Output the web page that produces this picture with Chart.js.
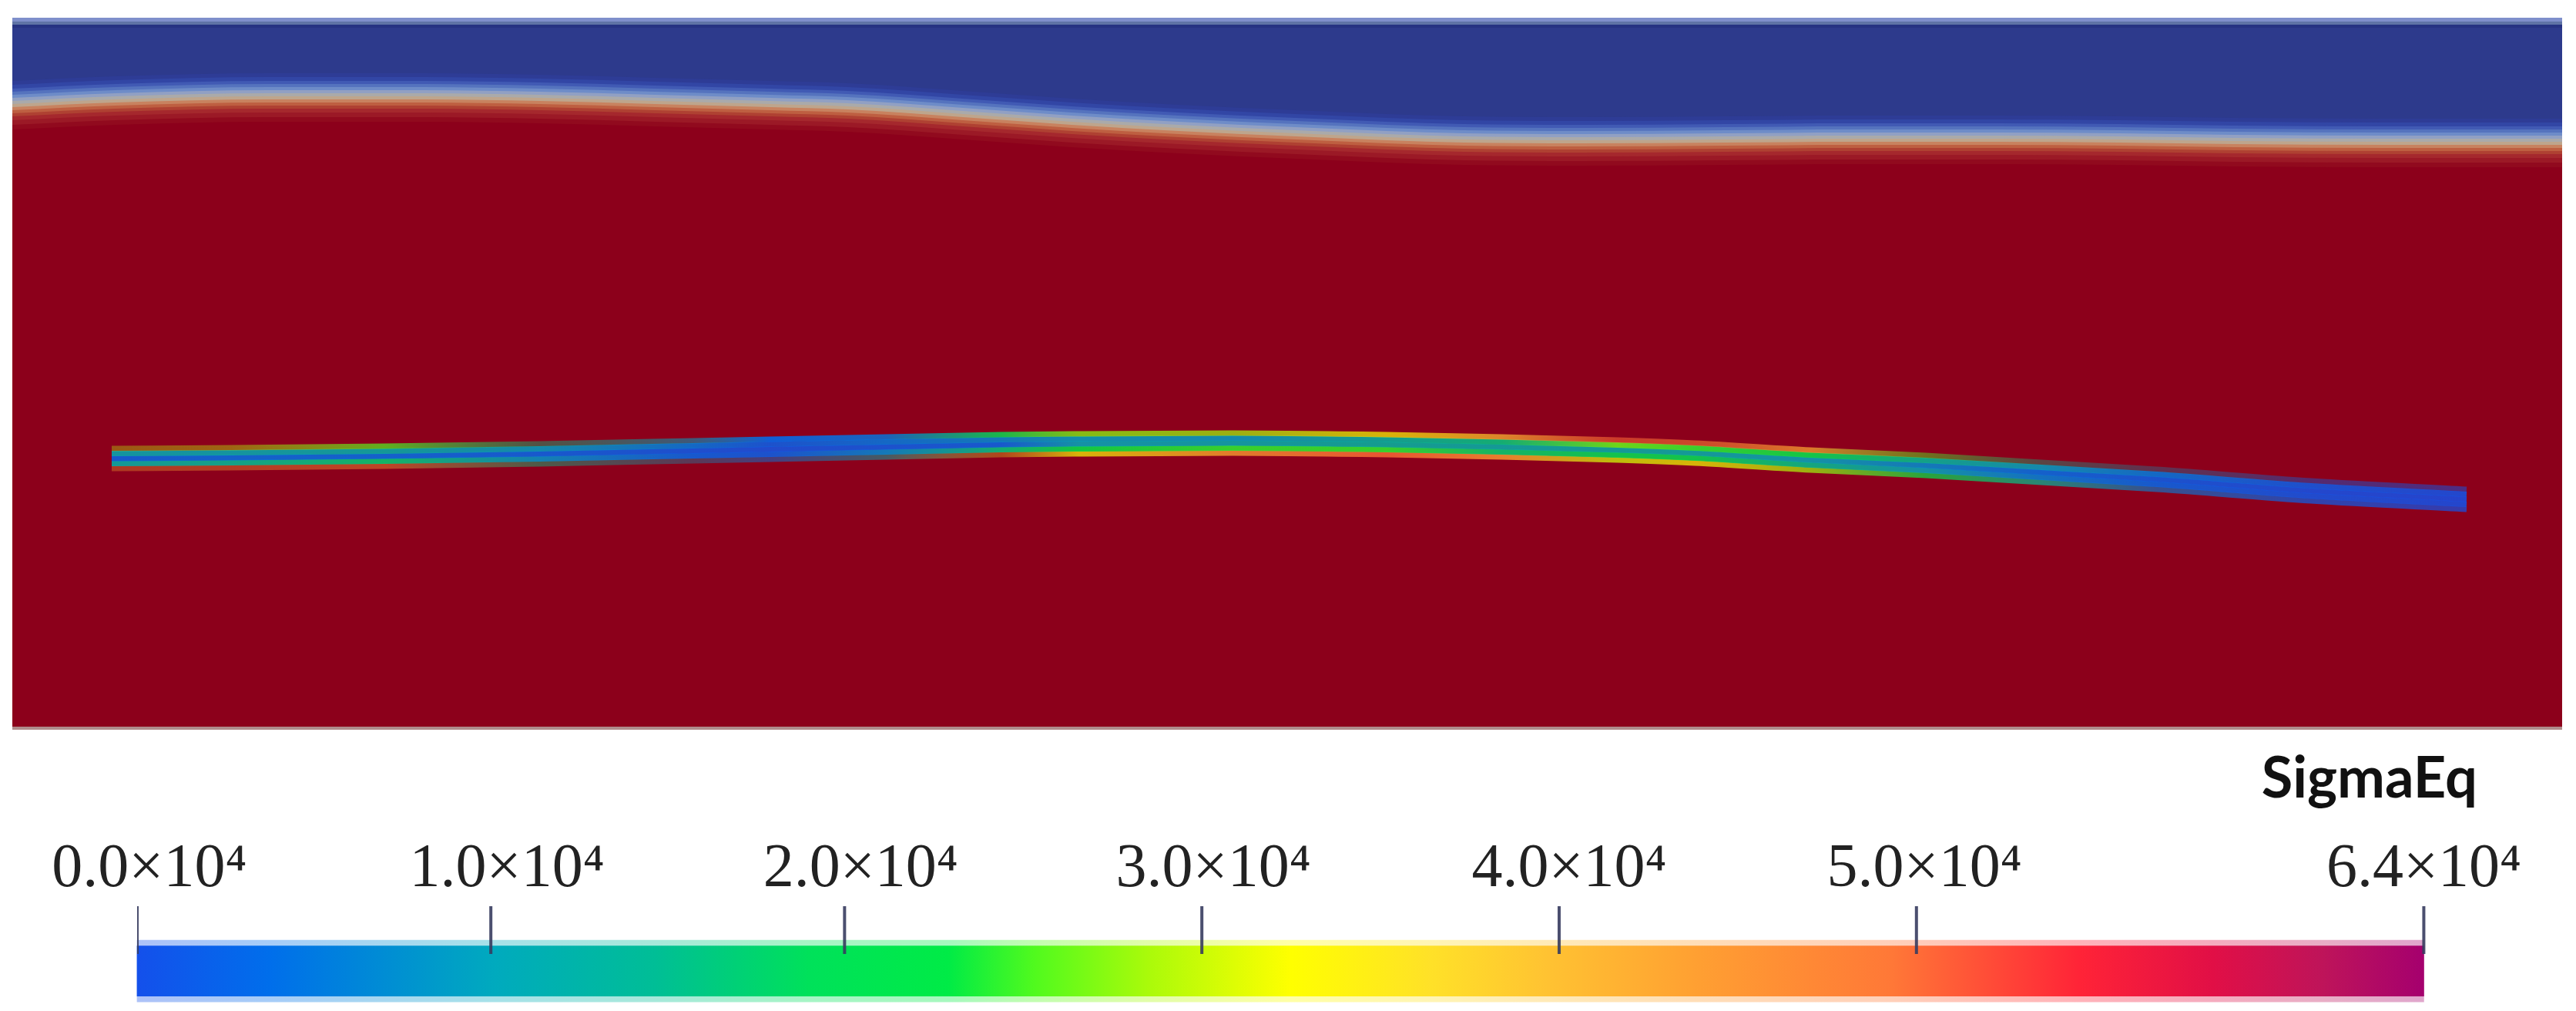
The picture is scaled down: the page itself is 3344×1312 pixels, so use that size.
<!DOCTYPE html>
<html>
<head>
<meta charset="utf-8">
<title>SigmaEq</title>
<script src="https://cdn.jsdelivr.net/npm/chart.js@4/dist/chart.umd.js"></script>
<style>
  html, body { margin: 0; padding: 0; background: #fff; }
  canvas { position: absolute; left: 0; top: 0; }
</style>
</head>
<body>
<canvas id="field" width="3344" height="1312"></canvas>
<canvas id="colorbar" width="3344" height="1312"></canvas>
<script>
// colour bar, values in units of 10^4
const tickValues = [0, 0.99, 1.98, 2.98, 3.98, 4.98, 6.4];
const labelValues = [0.034, 1.035, 2.025, 3.012, 4.008, 5.002, 6.4];
const tickLabels = ['0.0×10⁴', '1.0×10⁴', '2.0×10⁴', '3.0×10⁴', '4.0×10⁴', '5.0×10⁴', '6.4×10⁴'];
const cmapValues = [0, 0.37, 1.0, 1.45, 1.88, 2.27, 2.51, 2.83, 3.23, 3.62, 3.94, 4.36, 4.91, 5.44, 5.81, 6.12, 6.4];
const cmapColors = [
  [20, 80, 235], [0, 110, 235], [0, 170, 190], [0, 190, 150], [0, 225, 90], [0, 235, 70],
  [80, 250, 30], [170, 250, 10], [255, 255, 0], [255, 225, 40], [255, 195, 50], [255, 160, 50],
  [255, 120, 55], [255, 35, 55], [225, 15, 70], [190, 20, 90], [165, 0, 110]
];

// interface between the two fluids
const interfaceX = [16, 150, 350, 550, 700, 850, 1000, 1100, 1250, 1391, 1530, 1682, 1800, 1900, 2050, 2240, 2400, 2590, 2750, 2900, 3100, 3326];
const interfaceY = [134, 128, 124, 124, 126, 130, 134, 137, 147, 157, 165, 172, 177, 180, 181, 180, 179, 179, 180, 182, 183, 183];
const bandOffsets = [-29, -24, -19, -15, -11, -7, -3, 1, 5, 9, 13, 17, 22, 28, 34];
const bandColors = [
  '#2e3c96', '#3246a5', '#415ab4', '#5573be', '#6e8cc8', '#91a0c3', '#aaaaaa', '#bea58c',
  '#c8825f', '#be5f41', '#af4132', '#a5282d', '#9b1926', '#910a1e', '#8c001b'
];

// beam centre line and stress (10^4) in five rows across it
const beamX = [145, 300, 500, 700, 900, 1000, 1150, 1300, 1400, 1600, 1800, 1950, 2100, 2200, 2350, 2500, 2650, 2800, 3000, 3202];
const beamY = [595, 594, 592, 589, 585, 583, 580, 577, 576, 575, 577, 580, 584, 588, 597, 604, 613, 622, 637, 648];
const stressTop = [2.9, 2.9, 2.5, 1.6, 0.9, 0.3, 0.5, 2.0, 2.7, 2.8, 3.2, 4.0, 5.0, 4.8, 4.2, 2.5, 1.5, 0.9, 0.3, 0.1];
const stressUpper = [1.1, 1.1, 1.2, 0.9, 0.5, 0.2, 0.5, 0.7, 0.95, 0.9, 1.3, 1.6, 2.6, 2.4, 2.1, 1.4, 0.9, 0.5, 0.15, 0.05];
const stressCore = [0.3, 0.4, 0.4, 0.3, 0.15, 0.1, 0.2, 0.3, 1.0, 1.1, 1.3, 1.2, 1.2, 1.2, 1.0, 0.7, 0.4, 0.2, 0.05, 0];
const stressLower = [1.2, 1.4, 1.7, 0.8, 0.3, 0.2, 0.7, 1.6, 2.2, 2.4, 2.4, 1.7, 2.0, 2.0, 1.5, 1.0, 0.6, 0.3, 0.1, 0.03];
const stressBottom = [4.0, 4.2, 4.5, 1.6, 0.9, 0.5, 1.2, 3.5, 3.2, 4.3, 5.0, 4.4, 3.0, 3.2, 2.8, 2.2, 1.4, 0.6, 0.2, 0.05];
const alphaTop = [0.35, 0.4, 0.7, 0.4, 0.55, 0.9, 0.8, 0.8, 0.75, 0.7, 0.7, 0.7, 0.55, 0.55, 0.7, 0.45, 0.35, 0.3, 0.4, 0.5];
const alphaBottom = [0.3, 0.35, 0.45, 0.45, 0.35, 0.5, 0.5, 0.3, 0.7, 0.75, 0.8, 0.8, 0.75, 0.7, 0.7, 0.7, 0.7, 0.6, 0.7, 0.7];

const FIELD_BLUE = '#2d3a8c';
const FIELD_RED = '#8c001b';

function rgb(c, a = 1) {
  return `rgba(${c[0]},${c[1]},${c[2]},${a})`;
}

// same colour map as the bar, linear between the picked stops
function stressColor(v, a = 1) {
  let i = 0;
  while (i < cmapValues.length - 2 && v > cmapValues[i + 1]) i++;
  const t = Math.min(1, Math.max(0, (v - cmapValues[i]) / (cmapValues[i + 1] - cmapValues[i])));
  const c = cmapColors[i].map((p, k) => Math.round(p + (cmapColors[i + 1][k] - p) * t));
  return rgb(c, a);
}

function beamRow(offset, stress, alpha) {
  return {
    type: 'line',
    data: beamX.map((x, i) => ({ x, y: beamY[i] + offset })),
    borderWidth: 7,
    cubicInterpolationMode: 'monotone',
    pointRadius: 0,
    fill: false,
    borderColor: (ctx) => {
      const chart = ctx.chart;
      if (!chart.chartArea) return FIELD_RED;
      const xs = chart.scales.x;
      const x0 = xs.getPixelForValue(beamX[0]);
      const x1 = xs.getPixelForValue(beamX[beamX.length - 1]);
      const g = chart.ctx.createLinearGradient(x0, 0, x1, 0);
      beamX.forEach((x, i) => {
        // the colours in the beam are a bit duller than the bar
        const a = alpha ? alpha[i] : 0.85;
        g.addColorStop((x - beamX[0]) / (beamX[beamX.length - 1] - beamX[0]), stressColor(stress[i], a));
      });
      return g;
    }
  };
}

function edgeLine(y, width, color) {
  return {
    type: 'line',
    data: [{ x: 16, y }, { x: 3326, y }],
    borderColor: color,
    borderWidth: width,
    pointRadius: 0,
    fill: false
  };
}

function bandLayer(offset, color) {
  return {
    type: 'line',
    data: interfaceX.map((x, i) => ({ x, y: interfaceY[i] + offset })),
    borderWidth: 0,
    borderColor: color,
    backgroundColor: color,
    cubicInterpolationMode: 'monotone',
    pointRadius: 0,
    fill: { value: 943 }
  };
}

// first dataset ends up on top, so the beam goes first and the blue last
const fieldDatasets = [
  edgeLine(25.5, 5, '#7f8fcb'),
  edgeLine(30, 4, '#5f73a5'),
  edgeLine(34, 4, '#263282'),
  edgeLine(945, 4, '#b08c8c'),
  beamRow(-13, stressTop, alphaTop),
  beamRow(-6.5, stressUpper),
  beamRow(0, stressCore),
  beamRow(6.5, stressLower),
  beamRow(13, stressBottom, alphaBottom)
];
for (let i = bandOffsets.length - 1; i >= 0; i--) {
  fieldDatasets.push(bandLayer(bandOffsets[i], bandColors[i]));
}
fieldDatasets.push({
  type: 'line',
  data: interfaceX.map((x, i) => ({ x, y: interfaceY[i] })),
  borderWidth: 0,
  backgroundColor: FIELD_BLUE,
  pointRadius: 0,
  fill: { value: 23 }
});

new Chart(document.getElementById('field'), {
  data: { datasets: fieldDatasets },
  options: {
    responsive: false,
    animation: false,
    devicePixelRatio: 1,
    layout: { padding: { left: 16, right: 18, top: 23, bottom: 365 } },
    plugins: { legend: { display: false }, tooltip: { enabled: false } },
    scales: {
      x: { type: 'linear', min: 16, max: 3326, display: false },
      y: { type: 'linear', min: 23, max: 947, reverse: true, display: false }
    }
  }
});

function barGradient(chart, alpha) {
  const xs = chart.scales.x;
  const g = chart.ctx.createLinearGradient(xs.getPixelForValue(0), 0, xs.getPixelForValue(6.4), 0);
  cmapValues.forEach((v, i) => g.addColorStop(v / 6.4, rgb(cmapColors[i], alpha)));
  return g;
}

new Chart(document.getElementById('colorbar'), {
  data: {
    datasets: [
      {
        type: 'scatter',
        data: tickValues.map((x) => ({ x, y: 40 })),
        pointStyle: 'line',
        rotation: 90,
        radius: 31,
        borderWidth: 4,
        borderColor: 'rgba(55,60,95,0.9)',
        showLine: false
      },
      {
        type: 'bar',
        indexAxis: 'y',
        stack: 'cb',
        clip: false,
        data: [{ x: [0, 6.4], y: 116 }],
        barThickness: 65,
        backgroundColor: (ctx) => (ctx.chart.chartArea ? barGradient(ctx.chart, 1) : '#888')
      },
      {
        type: 'bar',
        indexAxis: 'y',
        stack: 'cb',
        clip: false,
        data: [{ x: [0, 6.4], y: 116 }],
        barThickness: 80,
        backgroundColor: (ctx) => (ctx.chart.chartArea ? barGradient(ctx.chart, 0.35) : '#ccc')
      }
    ]
  },
  options: {
    responsive: false,
    animation: false,
    devicePixelRatio: 1,
    layout: { padding: { left: 178, right: 128, top: 967, bottom: 17 } },
    plugins: {
      legend: { display: false },
      tooltip: { enabled: false },
      title: {
        display: true,
        text: 'SigmaEq',
        align: 'end',
        color: '#111',
        font: { family: 'Lato', size: 74, weight: 'bold' },
        padding: { top: 0, bottom: 37 }
      }
    },
    scales: {
      x: {
        type: 'linear',
        position: 'top',
        min: 0,
        max: 6.55,
        stacked: false,
        grid: { display: false, drawTicks: false },
        border: { display: false },
        afterBuildTicks: (axis) => { axis.ticks = labelValues.map((value) => ({ value })); },
        ticks: {
          autoSkip: false,
          maxRotation: 0,
          padding: -12,
          color: '#222',
          font: { family: 'Liberation Serif', size: 80 },
          callback: (v, i) => tickLabels[i]
        }
      },
      y: { type: 'linear', min: 0, max: 120, reverse: true, display: false }
    }
  }
});
</script>
</body>
</html>
